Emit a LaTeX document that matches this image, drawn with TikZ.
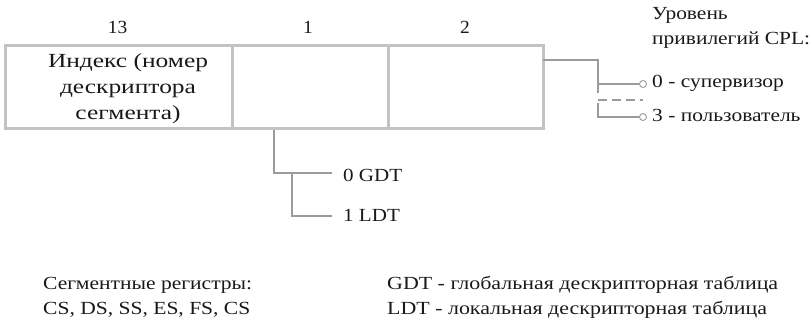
\documentclass[tikz,border=0pt]{standalone}
\usepackage{fontspec}
\usepackage{graphicx}
\setmainfont{Liberation Serif}
\definecolor{boxgray}{RGB}{195,195,195}
\definecolor{linegray}{RGB}{155,155,155}
\definecolor{txt}{RGB}{25,25,25}
\newsavebox\msbox
\newcommand\setratio[3]{\sbox\msbox{\normalfont #3}\pgfmathsetmacro#1{#2/\the\wd\msbox}}
\newcommand\Fn{\fontsize{18.5}{24.5}\selectfont}
\newcommand\Fb{\fontsize{20}{26}\selectfont}
\newcommand\sx[2]{\scalebox{#1}[1]{#2}}
\begin{document}
\setratio\rBox{160}{\Fb Индекс (номер}%
\setratio\rCpl{158}{\Fn привилегий CPL:}%
\setratio\rTi{59}{\Fn 0 GDT}%
\setratio\rSeg{209}{\Fn Сегментные регистры:}%
\setratio\rLeg{391}{\Fn GDT - глобальная дескрипторная таблица}%
\begin{tikzpicture}[x=1pt,y=-1pt,
  cell/.style={draw=boxgray,line width=3pt,minimum height=83pt,inner sep=0pt},
  conn/.style={draw=linegray,line width=1.1pt},
  term/.style={circle,draw=linegray,line width=0.9pt,fill=white,inner sep=0pt,minimum size=7pt},
  lbl/.style={text=txt,inner sep=0pt,font=\Fn},
  ]
\useasboundingbox (0,0) rectangle (812,325);
% cells
\node[cell,minimum width=227pt] (c1) at (118.5,86.5) {};
\node[cell,minimum width=156pt] (c2) at (310,86.5) {};
\node[cell,minimum width=155pt] (c3) at (465.5,86.5) {};
\node[text=txt,inner sep=0pt,align=center,font=\Fb] (idx) at (128,88.5)
  {\sx{\rBox}{Индекс (номер}\\\sx{\rBox}{дескриптора}\\\sx{\rBox}{сегмента)}};
% bit widths
\node[lbl] (w1) at (117.5,27) {\sx{1.05}{13}};
\node[lbl] (w2) at (308,27) {\sx{1.05}{1}};
\node[lbl] (w3) at (465,27) {\sx{1.05}{2}};
% CPL
\node[lbl,anchor=west,align=left,font=\fontsize{18.5}{25}\selectfont] (cplt) at (652,28)
  {\sx{\rCpl}{Уровень}\\\sx{\rCpl}{привилегий CPL:}};
\coordinate (r0) at (543,60);
\coordinate (r1) at (598,60);
\coordinate (r2) at (598,93);
\coordinate (r3) at (598,84);
\node[term] (t0) at (643,84) {};
\node[lbl,anchor=west] (l0) at (652,83) {\sx{\rCpl}{0 - супервизор}};
\coordinate (d0) at (598,100);
\coordinate (d1) at (643,100);
\coordinate (r4) at (598,103);
\coordinate (r5) at (598,117);
\node[term] (t3) at (643,117) {};
\node[lbl,anchor=west] (l3) at (652,115) {\sx{\rCpl}{3 - пользователь}};
\draw[conn] (r0) -- (r1) -- (r2);
\draw[conn] (r3) -- (t0);
\draw[conn,dashed,dash pattern=on 9pt off 5pt] (d0) -- (d1);
\draw[conn] (r4) -- (r5) -- (t3);
% TI
\coordinate (s0) at (274,129.5);
\coordinate (s1) at (274,173);
\coordinate (s2) at (332,173);
\coordinate (s3) at (292,173);
\coordinate (s4) at (292,216);
\coordinate (s5) at (332,216);
\node[lbl,anchor=west] (g) at (343,175) {\sx{\rTi}{0 GDT}};
\node[lbl,anchor=west] (l) at (343,215) {\sx{\rTi}{1 LDT}};
\draw[conn] (s0) -- (s1) -- (s2);
\draw[conn] (s3) -- (s4) -- (s5);
% legend
\node[lbl,anchor=west,align=left] (seg) at (43,297.5)
  {\sx{\rSeg}{Сегментные регистры:}\\\sx{\rSeg}{CS, DS, SS, ES, FS, CS}};
\node[lbl,anchor=west,align=left] (leg) at (387,297.5)
  {\sx{\rLeg}{GDT - глобальная дескрипторная таблица}\\\sx{\rLeg}{LDT - локальная дескрипторная таблица}};
\end{tikzpicture}
\end{document}
